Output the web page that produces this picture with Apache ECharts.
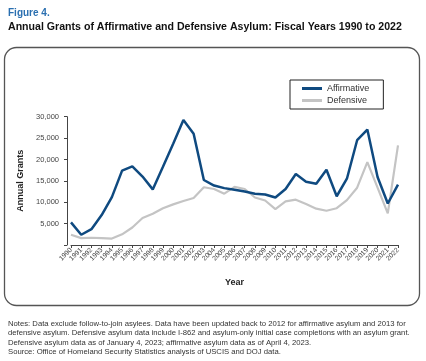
<!DOCTYPE html>
<html><head><meta charset="utf-8">
<script src="https://cdn.jsdelivr.net/npm/echarts@6/dist/echarts.min.js"></script>
<style>html,body{margin:0;padding:0;background:#fff}#c{width:426px;height:361px}</style>
</head><body><div id="c"></div>
<script>
const years = ['1990','1991','1992','1993','1994','1995','1996','1997','1998','1999','2000','2001','2002','2003','2004','2005','2006','2007','2008','2009','2010','2011','2012','2013','2014','2015','2016','2017','2018','2019','2020','2021','2022'];
const affirmative = [5300,2400,3700,7000,11200,17400,18400,16000,13000,18300,23700,29200,26000,15200,13900,13300,12900,12500,12000,11800,11100,13100,16600,14800,14300,17600,11400,15500,24500,27000,15900,9700,14100];
const defensive = [2400,1600,1700,1600,1500,2500,4100,6300,7300,8600,9500,10300,11000,13500,13100,12000,13600,13100,11100,10400,8400,10200,10600,9600,8500,8000,8600,10500,13400,19400,13400,7400,23300];
const yTicks = [5000,10000,15000,20000,25000,30000];

const font = 'Liberation Sans';
const chart = echarts.init(document.getElementById('c'), null, {renderer:'canvas'});
chart.setOption({
  animation:false,
  textStyle:{fontFamily:font},
  title:[
    {text:'Figure 4.', left:3, top:3, textStyle:{fontSize:10, fontWeight:'bold', color:'#2a6fb0', fontFamily:font}},
    {text:'Annual Grants of Affirmative and Defensive Asylum: Fiscal Years 1990 to 2022', left:3, top:17, textStyle:{fontSize:10.6, fontWeight:'bold', color:'#111', fontFamily:font}},
    {text:'Notes: Data exclude follow-to-join asylees. Data have been updated back to 2012 for affirmative asylum and 2013 for\ndefensive asylum. Defensive asylum data include I-862 and asylum-only initial case completions with an asylum grant.\nDefensive asylum data as of January 4, 2023; affirmative asylum data as of April 4, 2023.\nSource: Office of Homeland Security Statistics analysis of USCIS and DOJ data.',
     left:3, top:314, textStyle:{fontSize:7.7, fontWeight:'normal', color:'#333', lineHeight:9.5, fontFamily:font}}
  ],
  graphic:[
    {type:'rect', shape:{x:4.5, y:47.5, width:415, height:258, r:12}, style:{fill:'none', stroke:'#555', lineWidth:1.3}}
  ],
  legend:{
    left:290, top:80, orient:'vertical', itemWidth:20, itemHeight:3, itemGap:3,
    padding:[4,14,4,12], borderColor:'#222', borderWidth:1,
    icon:'rect', textStyle:{fontSize:9, color:'#333', fontFamily:font},
    data:['Affirmative','Defensive']
  },
  grid:{left:71, right:28, top:116.7, bottom:361-245, containLabel:false},
  xAxis:{
    type:'category', data:years, boundaryGap:false,
    name:'Year', nameLocation:'middle', nameGap:33,
    nameTextStyle:{fontSize:9, fontWeight:'bold', color:'#222'},
    axisLine:{lineStyle:{color:'#444', width:1}},
    axisTick:{show:true, alignWithLabel:true, length:3, lineStyle:{color:'#444'}},
    axisLabel:{rotate:45, fontSize:6.8, color:'#444', interval:0, margin:4}
  },
  yAxis:{
    type:'value', min:0, max:30000, interval:5000, offset:4,
    name:'Annual Grants', nameLocation:'middle', nameGap:42, nameRotate:90,
    nameTextStyle:{fontSize:9, fontWeight:'bold', color:'#222'},
    axisLine:{show:true, lineStyle:{color:'#444', width:1}},
    axisTick:{show:true, length:3, lineStyle:{color:'#444'}},
    splitLine:{show:false},
    axisLabel:{fontSize:7.5, color:'#444', margin:8,
      formatter:v => yTicks.includes(v) ? v.toLocaleString('en-US') : ''}
  },
  series:[
    {name:'Affirmative', type:'line', data:affirmative, showSymbol:false, symbol:'none',
     lineStyle:{color:'#0f4a80', width:2.5}, itemStyle:{color:'#0f4a80'}, z:3},
    {name:'Defensive', type:'line', data:defensive, showSymbol:false, symbol:'none',
     lineStyle:{color:'#c4c4c4', width:2.2}, itemStyle:{color:'#c4c4c4'}, z:2}
  ]
});
</script></body></html>
